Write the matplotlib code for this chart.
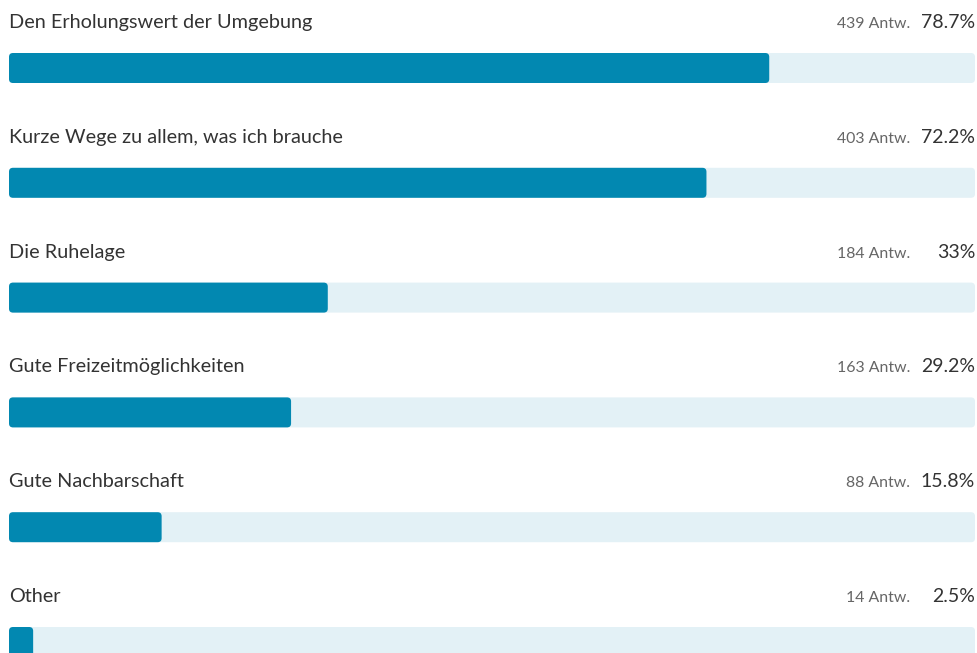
import matplotlib
matplotlib.use("Agg")
import matplotlib.pyplot as plt
from matplotlib.patches import FancyBboxPatch

categories = ["Den Erholungswert der Umgebung", "Kurze Wege zu allem, was ich brauche",
              "Die Ruhelage", "Gute Freizeitmöglichkeiten", "Gute Nachbarschaft", "Other"]
counts = [439, 403, 184, 163, 88, 14]
percents = [78.7, 72.2, 33, 29.2, 15.8, 2.5]
pct_labels = ["78.7%", "72.2%", "33%", "29.2%", "15.8%", "2.5%"]

W, H = 978, 653
fig = plt.figure(figsize=(W / 100, H / 100), dpi=100)
ax = fig.add_axes([0, 0, 1, 1])
ax.set_xlim(0, W)
ax.set_ylim(H, 0)
ax.axis("off")

left, right = 9, 975
track_w = right - left
bar_h = 30
first_top = 53
step = 114.8
fam = ["Lato", "DejaVu Sans"]

for i, (cat, c, p, pl) in enumerate(zip(categories, counts, percents, pct_labels)):
    top = first_top + i * step
    ax.add_patch(FancyBboxPatch((left, top), track_w, bar_h,
                                boxstyle="round,pad=0,rounding_size=4",
                                fc="#e3f1f6", ec="none"))
    ax.add_patch(FancyBboxPatch((left, top), track_w * p / 100, bar_h,
                                boxstyle="round,pad=0,rounding_size=4",
                                fc="#0288b1", ec="none"))
    base = top - 25
    ax.text(left, base, cat, ha="left", va="baseline", fontsize=14.3,
            color="#333333", family=fam)
    ax.text(910, base, f"{c} Antw.", ha="right", va="baseline", fontsize=11.4,
            color="#666666", family=fam)
    ax.text(right, base, pl, ha="right", va="baseline", fontsize=14,
            color="#333333", family=fam)

fig.savefig("out.png", dpi=100)
